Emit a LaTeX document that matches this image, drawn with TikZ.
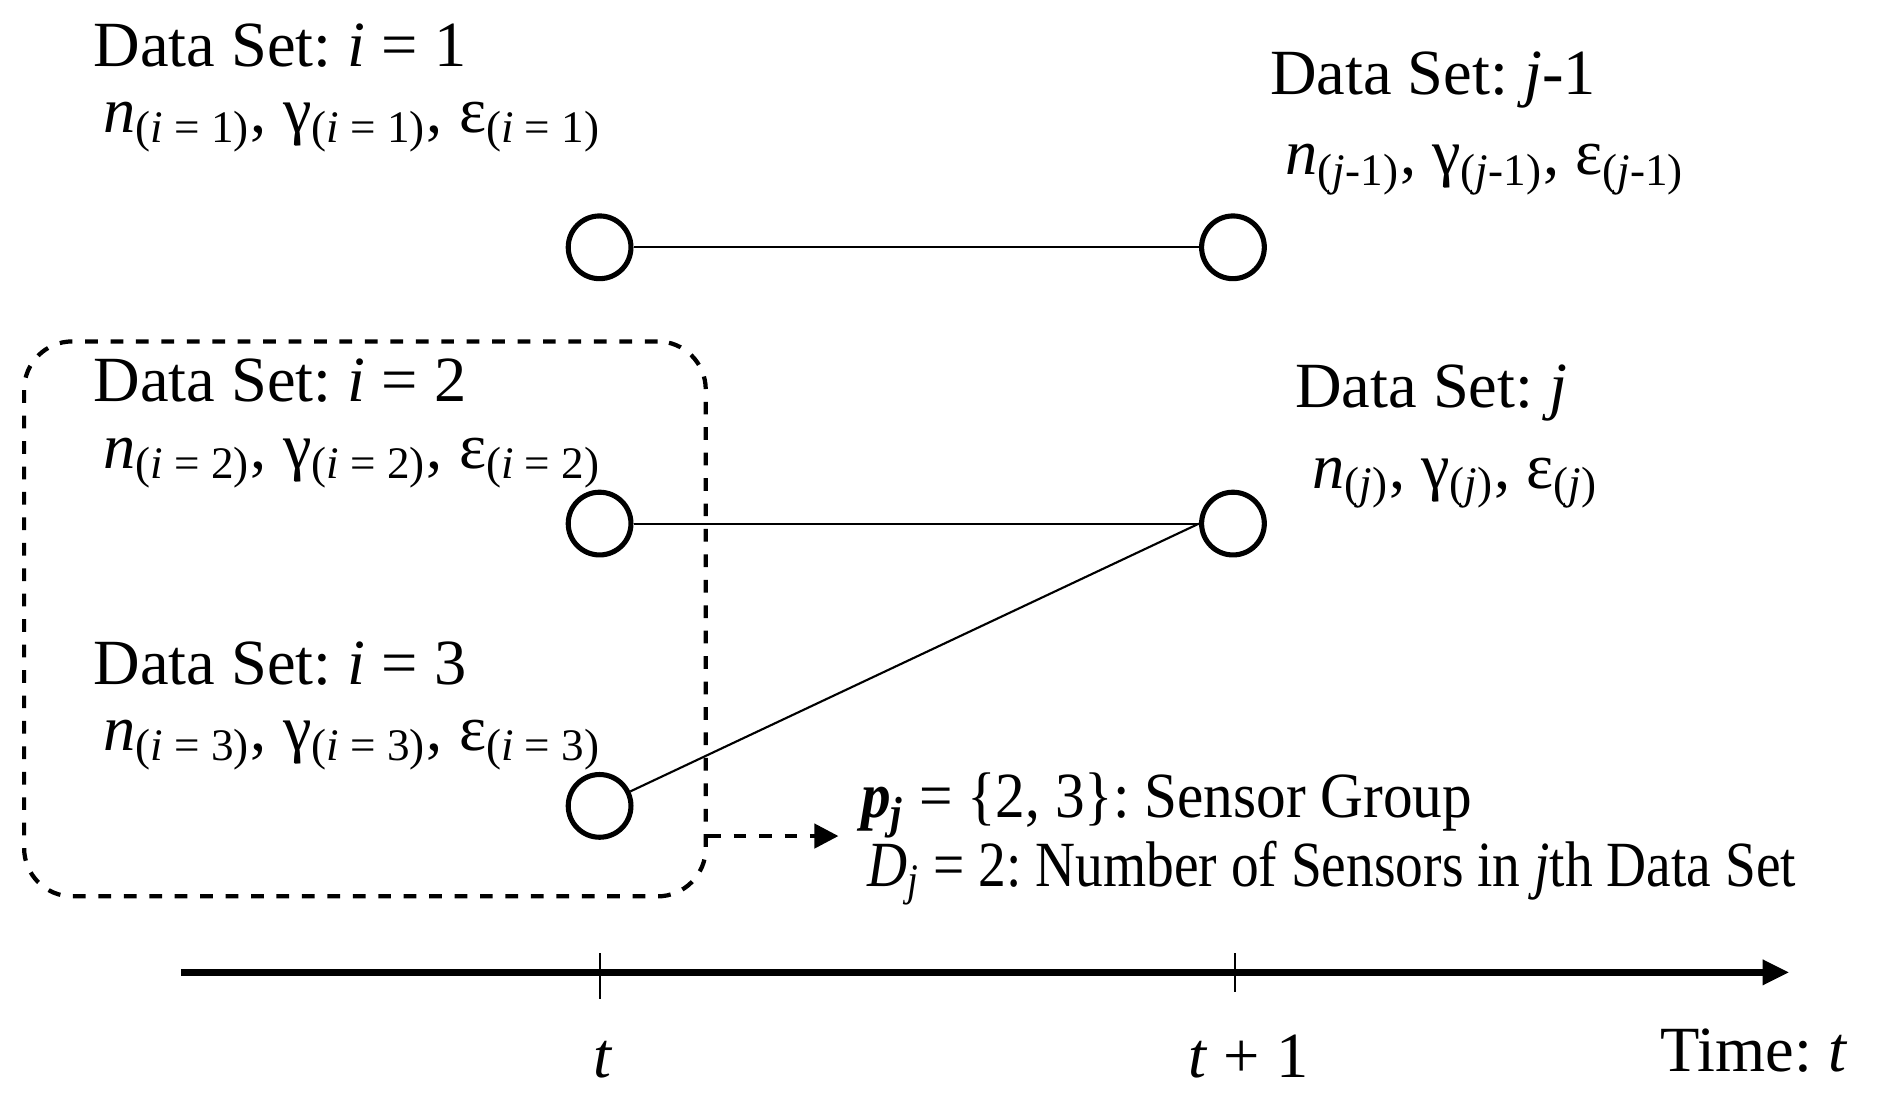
\documentclass[tikz,border=0pt]{standalone}
\usepackage{fontspec}
\usepackage{graphicx}
\setmainfont{Liberation Serif}
\usetikzlibrary{arrows.meta}
\newcommand{\sbs}[1]{\textsubscript{#1}}
\begin{document}
\frenchspacing
\begin{tikzpicture}[
  lbl/.style={anchor=base west,inner sep=0pt,font=\fontsize{15.2pt}{18pt}\selectfont\frenchspacing},
  dot/.style={circle,draw,line width=1.2pt,minimum size=0.52cm,inner sep=0pt},
  link/.style={line width=0.5pt}]
\useasboundingbox (0,0) rectangle (15.6,9.15);
\node[dot] (a1) at (4.97,7.10) {};
\node[dot] (b1) at (10.22,7.10) {};
\node[dot] (a2) at (4.97,4.81) {};
\node[dot] (b2) at (10.22,4.81) {};
\node[dot] (a3) at (4.97,2.47) {};
\draw[link] (a1) -- (b1);
\draw[link] (a2) -- (b2);
\draw[link] (a3) -- (b2.west);
\node[draw,dashed,line width=1pt,rounded corners=0.4cm,minimum width=5.65cm,minimum height=4.6cm] (box) at (3.025,4.02) {};
\coordinate (arrS) at (5.87,2.22);
\coordinate (arrE) at (6.95,2.22);
\draw[dashed,line width=1pt,-{Triangle[length=0.2cm,width=0.2cm]}] (arrS) -- (arrE);
\coordinate (ax0) at (1.50,1.09);
\coordinate (ax1) at (14.83,1.09);
\draw[line width=1.5pt,-{Triangle[length=0.22cm,width=0.2cm]}] (ax0) -- (ax1);
\coordinate (t0a) at (4.97,0.87); \coordinate (t0b) at (4.97,1.25);
\coordinate (t1a) at (10.24,0.93); \coordinate (t1b) at (10.24,1.25);
\draw[link] (t0a) -- (t0b);
\draw[link] (t1a) -- (t1b);
\node[lbl] (l1) at (0.77,8.60) {Data Set: \textit{i} = 1};
\node[lbl] (l1b) at (0.85,8.05) {\textit{n}\sbs{(\textit{i} = 1)}, γ\sbs{(\textit{i} = 1)}, ε\sbs{(\textit{i} = 1)}};
\node[lbl] (l2) at (0.77,5.82) {Data Set: \textit{i} = 2};
\node[lbl] (l2b) at (0.85,5.27) {\textit{n}\sbs{(\textit{i} = 2)}, γ\sbs{(\textit{i} = 2)}, ε\sbs{(\textit{i} = 2)}};
\node[lbl] (l3) at (0.77,3.48) {Data Set: \textit{i} = 3};
\node[lbl] (l3b) at (0.85,2.93) {\textit{n}\sbs{(\textit{i} = 3)}, γ\sbs{(\textit{i} = 3)}, ε\sbs{(\textit{i} = 3)}};
\node[lbl] (r1) at (10.52,8.37) {Data Set: \textit{j}-1};
\node[lbl] (r1b) at (10.65,7.70) {\textit{n}\sbs{(\textit{j}-1)}, γ\sbs{(\textit{j}-1)}, ε\sbs{(\textit{j}-1)}};
\node[lbl] (r2) at (10.73,5.77) {Data Set: \textit{j}};
\node[lbl] (r2b) at (10.87,5.10) {\textit{n}\sbs{(\textit{j})}, γ\sbs{(\textit{j})}, ε\sbs{(\textit{j})}};
\node[lbl] (p) at (7.13,2.37) {\scalebox{0.92}[1]{\textbf{\textit{p}}\sbs{\textbf{\textit{j}}} = \{2, 3\}: Sensor Group}};
\node[lbl] (d) at (7.18,1.80) {\scalebox{0.86}[1]{\textit{D}\sbs{\textit{j}} = 2: Number of Sensors in \textit{j}th Data Set}};
\node[lbl,anchor=base] (tl) at (5.00,0.22) {\textit{t}};
\node[lbl,anchor=base] (t1l) at (10.35,0.22) {\textit{t} + 1};
\node[lbl,anchor=base east] (tm) at (15.32,0.27) {Time: \textit{t}};
\end{tikzpicture}
\end{document}
